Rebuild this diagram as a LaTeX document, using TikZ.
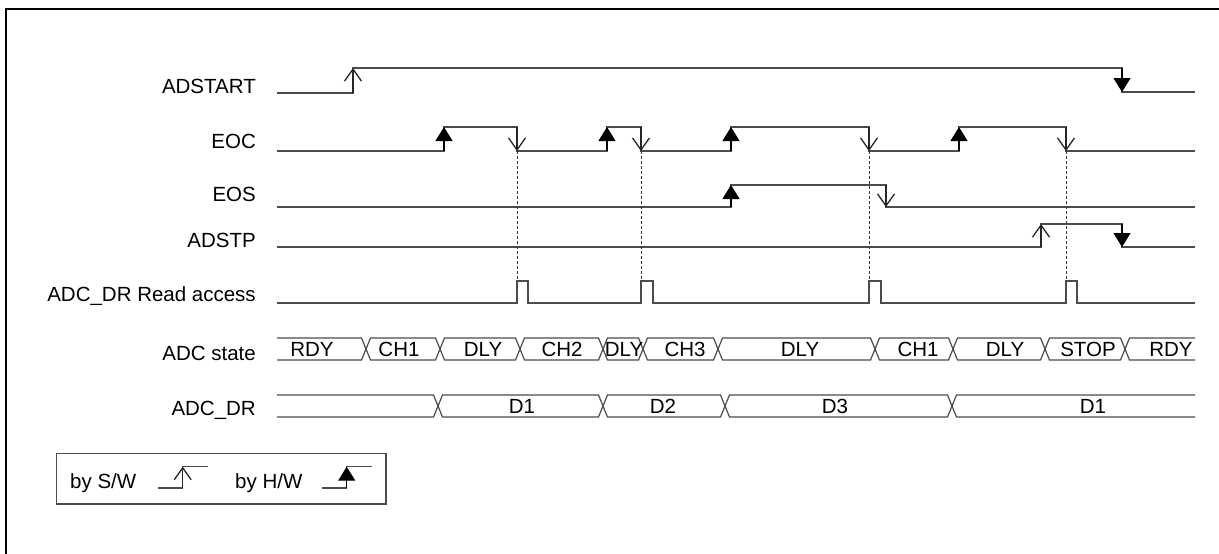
\documentclass[tikz,border=0pt]{standalone}
\usepackage{fontspec}
\setmainfont{Liberation Sans}
\usetikzlibrary{arrows.meta}

\begin{document}
\begin{tikzpicture}[x=1pt, y=-1pt,
  every node/.style={font=\fontsize{20.5}{24}\selectfont, inner sep=0pt},
  sig/.style={line width=1.2pt, black!70},
  swedge/.style={sig, black!85, -{Straight Barb[length=12pt,width=17pt,line width=1.3pt]}},
  hwedge/.style={sig, black, -{Triangle[length=14pt,width=17pt]}},
  lbl/.style={anchor=base east},
  rdline/.style={black!80, line width=0.9pt, densely dashed}]
  \useasboundingbox (0,0) rectangle (1219,554);
  % Frame
  \draw[line width=2.5pt] (1219,9) -- (6,9) -- (6,554);

  % Signal names
  \node[lbl] (adstart) at (256,93) {ADSTART};
  \node[lbl] (eoc) at (256,148) {EOC};
  \node[lbl] (eos) at (256,201) {EOS};
  \node[lbl] (adstp) at (256,247) {ADSTP};
  \node[lbl] (rdacc) at (256,301) {ADC\_DR Read access};
  \node[lbl] (state) at (256,360) {ADC state};
  \node[lbl] (adcdr) at (256,415) {ADC\_DR};

  % ADSTART
  \draw[sig] (277,93) -- (353,93) -- (353,68) -- (1122,68) -- (1122,92) -- (1195,92);
  \draw[swedge] (353,93) -- (353,68);
  \draw[hwedge] (1122,68) -- (1122,92);

  % EOC
  \draw[sig] (277,151) -- (444,151) -- (444,127) -- (517,127) -- (517,151) -- (607,151)
    -- (607,127) -- (641,127) -- (641,151) -- (731,151) -- (731,127) -- (869,127)
    -- (869,151) -- (959,151) -- (959,127) -- (1066,127) -- (1066,151) -- (1195,151);
  \draw[hwedge] (444,151) -- (444,127);
  \draw[swedge] (517,127) -- (517,151);
  \draw[hwedge] (607,151) -- (607,127);
  \draw[swedge] (641,127) -- (641,151);
  \draw[hwedge] (731,151) -- (731,127);
  \draw[swedge] (869,127) -- (869,151);
  \draw[hwedge] (959,151) -- (959,127);
  \draw[swedge] (1066,127) -- (1066,151);

  % EOS
  \draw[sig] (277,207) -- (731,207) -- (731,185) -- (886,185) -- (886,207) -- (1195,207);
  \draw[hwedge] (731,207) -- (731,185);
  \draw[swedge] (886,185) -- (886,207);

  % ADSTP
  \draw[sig] (277,247) -- (1041,247) -- (1041,224) -- (1122,224) -- (1122,247) -- (1195,247);
  \draw[swedge] (1041,247) -- (1041,224);
  \draw[hwedge] (1122,224) -- (1122,247);

  % ADC_DR read access
  \draw[sig] (277,303) -- (517,303) -- (517,281) -- (528,281) -- (528,303) -- (641,303)
    -- (641,281) -- (653,281) -- (653,303) -- (869,303) -- (869,281) -- (881,281)
    -- (881,303) -- (1066,303) -- (1066,281) -- (1077,281) -- (1077,303) -- (1195,303);
  \draw[rdline] (517,151) -- (517,281);
  \draw[rdline] (641,151) -- (641,281);
  \draw[rdline] (869,151) -- (869,281);
  \draw[rdline] (1066,151) -- (1066,281);

  % ADC state
  \draw[sig] (277,338) -- (361.5,338) -- (366,349) -- (361.5,360) -- (277,360);
  \node (st0) at (312,349) {RDY};
  \foreach \a/\b/\c/\t [count=\i] in {366/440/399/CH1, 440/520/483/DLY, 520/603/562/CH2,
      603/643/624/DLY, 643/718/685/CH3, 718/875/800/DLY, 875/953/918/CH1,
      953/1045/1005/DLY, 1045/1125/1088/STOP} {
    \draw[sig] (\a,349) -- (\a+4.5,338) -- (\b-4.5,338) -- (\b,349) -- (\b-4.5,360) -- (\a+4.5,360) -- cycle;
    \node (st\i) at (\c,349) {\t};
  }
  \draw[sig] (1195,338) -- (1129.5,338) -- (1125,349) -- (1129.5,360) -- (1195,360);
  \node (st10) at (1171,349) {RDY};

  % ADC_DR
  \draw[sig] (277,395) -- (433.5,395) -- (438,406) -- (433.5,417) -- (277,417);
  \foreach \a/\b/\c/\t [count=\i] in {438/603/522/D1, 603/725/663/D2, 725/952/835/D3} {
    \draw[sig] (\a,406) -- (\a+4.5,395) -- (\b-4.5,395) -- (\b,406) -- (\b-4.5,417) -- (\a+4.5,417) -- cycle;
    \node (dr\i) at (\c,406) {\t};
  }
  \draw[sig] (1195,395) -- (956.5,395) -- (952,406) -- (956.5,417) -- (1195,417);
  \node (dr4) at (1093,406) {D1};

  % Legend
  \draw[line width=1.5pt, black!70] (56.7,453.3) rectangle (386,504);
  \node[anchor=base west] (bysw) at (70,488) {by S/W};
  \draw[sig] (158,488) -- (182.7,488) -- (182.7,466.7) -- (208.3,466.7);
  \draw[swedge] (182.7,488) -- (182.7,466.7);
  \node[anchor=base west] (byhw) at (235,488) {by H/W};
  \draw[sig] (321.7,488) -- (346.7,488) -- (346.7,466.7) -- (372.3,466.7);
  \draw[hwedge] (346.7,488) -- (346.7,466.7);
\end{tikzpicture}
\end{document}
